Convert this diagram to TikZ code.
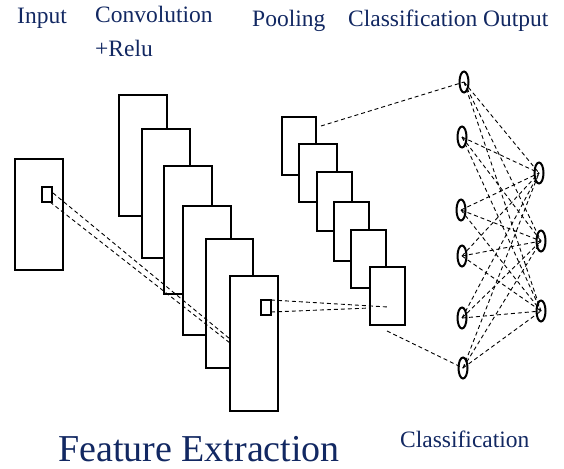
\documentclass[tikz,border=0pt]{standalone}
\usepackage{fontspec}
\setmainfont{Liberation Serif}
\usetikzlibrary{shapes.geometric}
\definecolor{navy}{RGB}{18,40,98}
\begin{document}
\begin{tikzpicture}[x=1pt,y=-1pt,
  lbl/.style={text=navy, font=\fontsize{23.5pt}{28pt}\selectfont, anchor=base west, inner sep=0pt},
  biglbl/.style={text=navy, font=\fontsize{38pt}{44pt}\selectfont, anchor=base west, inner sep=0pt},
  fmap/.style={draw, fill=white, line width=2pt, inner sep=0pt, outer sep=0pt, anchor=north west},
  win/.style={draw, line width=1.8pt, inner sep=0pt, outer sep=0pt, anchor=north west, minimum width=10pt, minimum height=15pt},
  neuron/.style={ellipse, draw, line width=2pt, minimum width=9pt, minimum height=21pt, inner sep=0pt},
  link/.style={line width=0.9pt, dash pattern=on 4pt off 3pt}]
\useasboundingbox (0,0) rectangle (564,468);

% labels
\node[lbl] (tin) at (17,24) {Input};
\node[lbl] (tconv) at (95,23) {Convolution};
\node[lbl] (trelu) at (95,57) {+Relu};
\node[lbl] (tpool) at (252,27) {Pooling};
\node[lbl] (tcls) at (348,27) {Classification};
\node[lbl] (tout) at (483,27) {Output};
\node[biglbl] (tfeat) at (58,461) {Feature Extraction};
\node[lbl] (tcls2) at (400,447) {Classification};

% input
\node[fmap, minimum width=48pt, minimum height=111pt] (inp) at (15,159) {};
\node[win] (w1) at (42,187) {};

% convolution maps
\node[fmap, minimum width=48pt, minimum height=121pt] (c1) at (119,95) {};
\node[fmap, minimum width=48pt, minimum height=129pt] (c2) at (142,129) {};
\node[fmap, minimum width=48pt, minimum height=128pt] (c3) at (164,166) {};
\node[fmap, minimum width=48pt, minimum height=129pt] (c4) at (183,206) {};
\node[fmap, minimum width=47pt, minimum height=129pt] (c5) at (206,239) {};
\node[fmap, minimum width=48pt, minimum height=135pt] (c6) at (230,276) {};
\node[win] (w2) at (261,300) {};

% pooling maps
\node[fmap, minimum width=34pt, minimum height=58pt] (p1) at (282,117) {};
\node[fmap, minimum width=38pt, minimum height=58pt] (p2) at (299,144) {};
\node[fmap, minimum width=35pt, minimum height=59pt] (p3) at (317,172) {};
\node[fmap, minimum width=35pt, minimum height=59pt] (p4) at (334,202) {};
\node[fmap, minimum width=35pt, minimum height=58pt] (p5) at (351,230) {};
\node[fmap, minimum width=35pt, minimum height=58pt] (p6) at (370,267) {};

% neurons
\node[neuron] (n1) at (464,82) {};
\node[neuron] (n2) at (462,137) {};
\node[neuron] (n3) at (461,210) {};
\node[neuron] (n4) at (462,256) {};
\node[neuron] (n5) at (462,318) {};
\node[neuron] (n6) at (463,368) {};
\node[neuron] (o1) at (539,173) {};
\node[neuron] (o2) at (541,241) {};
\node[neuron] (o3) at (541,311) {};

% connector end points
\coordinate (a1) at (53,193);
\coordinate (a2) at (50,202);
\coordinate (b1) at (230,339);
\coordinate (b2) at (230,343);
\coordinate (d1) at (271,300);
\coordinate (d2) at (271,312);
\coordinate (e1) at (388,307);
\coordinate (e2) at (370,308);
\coordinate (f1) at (321,126);
\coordinate (f2) at (387,331);

\draw[link] (a1) -- (b1);
\draw[link] (a2) -- (b2);
\draw[link] (d1) -- (e1);
\draw[link] (d2) -- (e2);
\draw[link] (f1) -- (n1.center);
\draw[link] (f2) -- (n6.center);
\foreach \i in {n1,n2,n3,n4,n5,n6}{
  \foreach \j in {o1,o2,o3}{
    \draw[link] (\i.center) -- (\j.center);
  }
}
\end{tikzpicture}
\end{document}
